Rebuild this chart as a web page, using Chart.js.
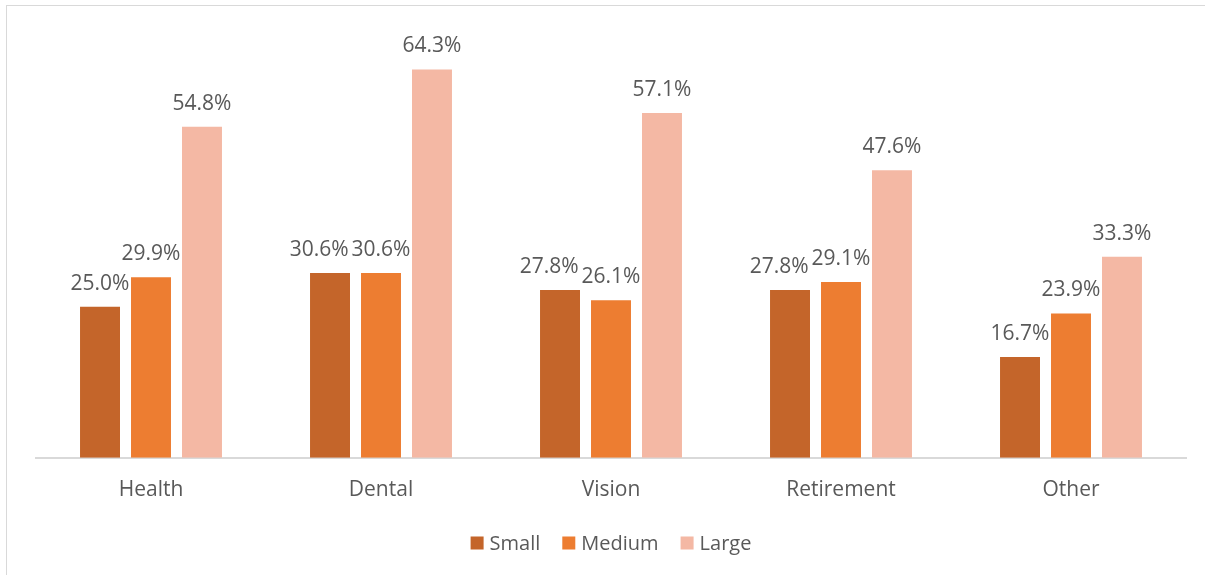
<!DOCTYPE html>
<html>
<head>
<meta charset="utf-8">
<script src="https://cdn.jsdelivr.net/npm/chart.js@4.4.1/dist/chart.umd.min.js"></script>
<style>
html,body{margin:0;padding:0;background:#fff;overflow:hidden;}
#frame{position:absolute;left:6px;top:5px;width:1220px;height:600px;border:1.5px solid #D9D9D9;box-sizing:border-box;}
#wrap{position:absolute;left:0;top:0;width:1205px;height:575px;}
</style>
</head>
<body>
<div id="frame"></div>
<div id="wrap"><canvas id="c" width="1205" height="575"></canvas></div>
<script>
const categories = ["Health", "Dental", "Vision", "Retirement", "Other"];
const seriesNames = ["Small", "Medium", "Large"];
const smallValues = [25.0, 30.6, 27.8, 27.8, 16.7];
const mediumValues = [29.9, 30.6, 26.1, 29.1, 23.9];
const largeValues = [54.8, 64.3, 57.1, 47.6, 33.3];
const seriesColors = ["#C4652A", "#ED7D31", "#F4B8A4"];

const FONT = "'Open Sans', 'Noto Sans', sans-serif";
const TEXT = "#595959";

const labelPlugin = {
  id: "barLabels",
  afterDatasetsDraw(chart) {
    const ctx = chart.ctx;
    ctx.save();
    ctx.font = "21px " + FONT;
    ctx.fillStyle = TEXT;
    ctx.textAlign = "center";
    ctx.textBaseline = "middle";
    const nSets = chart.data.datasets.length;
    const lh = 22, minGap = 3;
    chart.data.labels.forEach((_, j) => {
      const labs = [];
      for (let i = 0; i < nSets; i++) {
        const bar = chart.getDatasetMeta(i).data[j];
        const txt = chart.data.datasets[i].data[j].toFixed(1) + "%";
        labs.push({ txt, x: bar.x, y: bar.y - 23, w: ctx.measureText(txt).width });
      }
      // avoid collisions: push left-hand labels leftwards
      for (let i = nSets - 2; i >= 0; i--) {
        const a = labs[i], b = labs[i + 1];
        if (Math.abs(a.y - b.y) < lh) {
          const overlap = (a.x + a.w / 2 + minGap) - (b.x - b.w / 2);
          if (overlap > 0) a.x -= overlap;
        }
      }
      labs.forEach(l => ctx.fillText(l.txt, l.x, l.y));
    });
    ctx.restore();
  }
};

const legendPlugin = {
  id: "customLegend",
  afterDraw(chart) {
    const ctx = chart.ctx;
    ctx.save();
    ctx.font = "20px " + FONT;
    ctx.textBaseline = "middle";
    ctx.textAlign = "left";
    const box = 13, gapText = 6, gapItem = 22;
    const items = chart.data.datasets.map(ds => ({ text: ds.label, color: ds.backgroundColor, w: ctx.measureText(ds.label).width }));
    let total = 0;
    items.forEach((it, i) => { total += box + gapText + it.w + (i < items.length - 1 ? gapItem : 0); });
    const cx = (chart.chartArea.left + chart.chartArea.right) / 2;
    let x = cx - total / 2;
    const y = 543;
    items.forEach(it => {
      ctx.fillStyle = it.color;
      ctx.fillRect(x, y - box / 2, box, box);
      x += box + gapText;
      ctx.fillStyle = TEXT;
      ctx.fillText(it.text, x, y + 1);
      x += it.w + gapItem;
    });
    ctx.restore();
  }
};

new Chart(document.getElementById("c"), {
  type: "bar",
  data: {
    labels: categories,
    datasets: [smallValues, mediumValues, largeValues].map((vals, i) => ({
      label: seriesNames[i],
      data: vals,
      backgroundColor: seriesColors[i],
      borderWidth: 0,
      categoryPercentage: 0.665,
      barPercentage: 0.784
    }))
  },
  options: {
    responsive: false,
    animation: false,
    devicePixelRatio: 1,
    layout: { padding: { left: 36, right: 19, top: 35, bottom: 52 } },
    plugins: {
      tooltip: { enabled: false },
      legend: { display: false }
    },
    scales: {
      x: {
        grid: { display: false, drawTicks: false },
        border: { display: true, color: "#D9D9D9", width: 2 },
        ticks: { color: TEXT, font: { family: FONT, size: 21 }, padding: 20 }
      },
      y: {
        display: false,
        min: 0,
        max: 70
      }
    }
  },
  plugins: [labelPlugin, legendPlugin]
});
</script>
</body>
</html>
